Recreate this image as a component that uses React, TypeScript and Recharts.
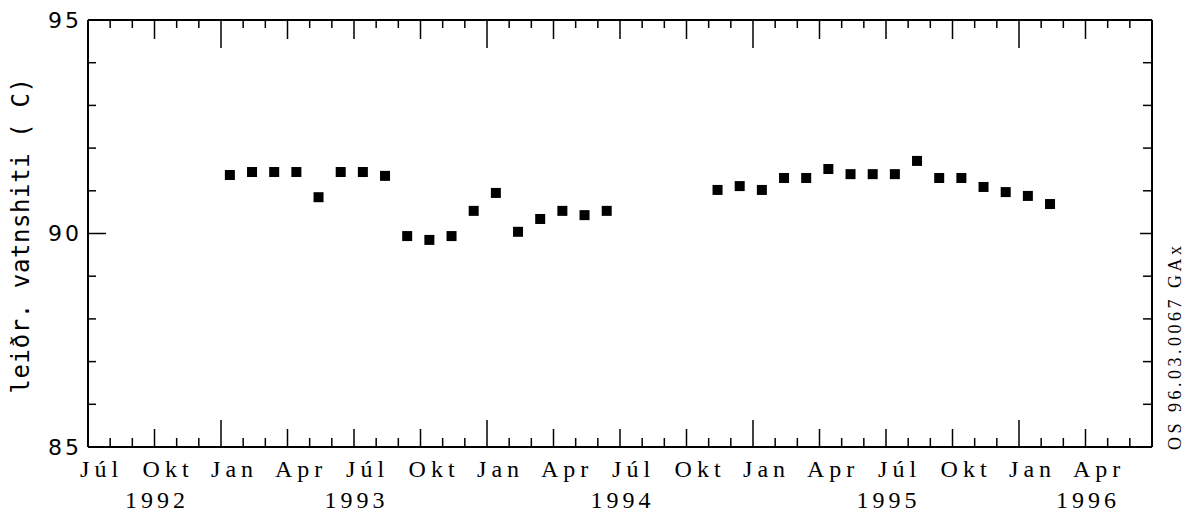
import React from "react";
import { ScatterChart, Scatter, XAxis, YAxis, Label } from "recharts";

// Month index: 0 = Júl 1992 ... 48 = Júl 1996
const seg1Months = [6, 7, 8, 9, 10, 11, 12, 13, 14, 15, 16, 17, 18, 19, 20, 21, 22, 23];
const seg1Values = [91.37, 91.44, 91.44, 91.44, 90.85, 91.44, 91.44, 91.35, 89.94, 89.85, 89.94, 90.53, 90.95, 90.04, 90.34, 90.53, 90.43, 90.53];
const seg2Months = [28, 29, 30, 31, 32, 33, 34, 35, 36, 37, 38, 39, 40, 41, 42, 43];
const seg2Values = [91.02, 91.11, 91.02, 91.3, 91.3, 91.51, 91.39, 91.39, 91.39, 91.7, 91.3, 91.3, 91.09, 90.97, 90.88, 90.69];
const measureDayFraction = 0.4; // measurements taken ~12th of each month

const quarterLabels = ["Júl", "Okt", "Jan", "Apr", "Júl", "Okt", "Jan", "Apr", "Júl", "Okt", "Jan", "Apr", "Júl", "Okt", "Jan", "Apr"];
const yearLabels = ["1992", "1993", "1994", "1995", "1996"];
const yearPositions = [3, 12, 24, 36, 45];
const yTicks = [85, 86, 87, 88, 89, 90, 91, 92, 93, 94, 95];
const yLabeled = [85, 90, 95];
const yTitle = "leiðr. vatnshiti ( C)";
const stamp = "OS 96.03.0067 GAx";

const data = [
  ...seg1Months.map((m, i) => ({ x: m + measureDayFraction, y: seg1Values[i] })),
  ...seg2Months.map((m, i) => ({ x: m + measureDayFraction, y: seg2Values[i] })),
];

const monthTicks = Array.from({ length: 49 }, (_, i) => i);
const labelTicks = quarterLabels.map((_, i) => i * 3 + 0.5);
const bottomTicks = [...monthTicks, ...labelTicks].sort((a, b) => a - b);

const LS = 5;

const tickLen = (m: number, top: boolean) => {
  if (m % 12 === 6) return top ? 28 : 27;
  if (m % 3 === 0) return top ? 19 : 18;
  return top ? 8 : 9;
};

const BottomTick = (props: any) => {
  const { x, y, payload } = props;
  const v = payload.value;
  if (Number.isInteger(v)) {
    const yi = yearPositions.indexOf(v);
    return (
      <g>
        <line x1={x} x2={x} y1={y} y2={y - tickLen(v, false)} stroke="#000" strokeWidth={1.5} />
        {yi >= 0 && (
          <text x={x + LS / 2} y={y + 61} textAnchor="middle" fontFamily="Liberation Serif" fontSize={24} letterSpacing={4} fill="#000">
            {yearLabels[yi]}
          </text>
        )}
      </g>
    );
  }
  const qi = Math.round((v - 0.5) / 3);
  return (
    <text x={x + LS / 2} y={y + 30} textAnchor="middle" fontFamily="Liberation Serif" fontSize={24} letterSpacing={LS} fill="#000">
      {quarterLabels[qi]}
    </text>
  );
};

const TopTick = (props: any) => {
  const { x, y, payload } = props;
  return <line x1={x} x2={x} y1={y} y2={y + tickLen(payload.value, true)} stroke="#000" strokeWidth={1.5} />;
};

const LeftTick = (props: any) => {
  const { x, y, payload } = props;
  const major = yLabeled.includes(payload.value);
  return (
    <g>
      <line x1={x} x2={x + (major ? 18 : 8)} y1={y} y2={y} stroke="#000" strokeWidth={1.5} />
      {major && (
        <text x={x - 6} y={y} dy="0.36em" textAnchor="end" fontFamily="DejaVu Sans" fontSize={22} letterSpacing={3} fill="#000">
          {payload.value}
        </text>
      )}
    </g>
  );
};

const RightTick = (props: any) => {
  const { x, y, payload } = props;
  const major = yLabeled.includes(payload.value);
  return <line x1={x} x2={x - (major ? 12 : 9)} y1={y} y2={y} stroke="#000" strokeWidth={1.5} />;
};

const YTitle = (props: any) => {
  const vb = props.viewBox;
  const cx = vb.x + 21;
  const cy = vb.y + vb.height / 2 + 2;
  return (
    <text x={cx} y={cy} transform={`rotate(-90 ${cx} ${cy})`} textAnchor="middle" dy="0.35em" fontFamily="DejaVu Sans Mono" fontSize={24} letterSpacing={0.6} fill="#000">
      {yTitle}
    </text>
  );
};

const Stamp = (props: any) => {
  const vb = props.viewBox;
  const cx = vb.x + 23;
  const cy = vb.y + vb.height + 3;
  return (
    <text x={cx} y={cy} transform={`rotate(-90 ${cx} ${cy})`} textAnchor="start" dy="0.35em" fontFamily="Liberation Serif" fontSize={18} letterSpacing={3.5} fill="#000">
      {stamp}
    </text>
  );
};

const SquareDot = (props: any) => {
  const { cx, cy } = props;
  return <rect x={cx - 5} y={cy - 5} width={10} height={10} fill="#000" />;
};

export default function App() {
  return (
    <div style={{ position: "absolute", left: 0, top: 0, width: 1189, height: 520, background: "#fff" }}>
      <ScatterChart width={1189} height={520} margin={{ top: 0, right: 0, bottom: 0, left: 0 }}>
        <XAxis
          xAxisId="b"
          type="number"
          dataKey="x"
          domain={[0, 48]}
          ticks={bottomTicks}
          interval={0}
          orientation="bottom"
          height={73}
          tickSize={0}
          tickMargin={0}
          tickLine={false}
          axisLine={{ stroke: "#000", strokeWidth: 2 }}
          tick={<BottomTick />}
          allowDataOverflow
        />
        <XAxis
          xAxisId="t"
          type="number"
          dataKey="x"
          domain={[0, 48]}
          ticks={monthTicks}
          interval={0}
          orientation="top"
          height={20}
          tickSize={0}
          tickMargin={0}
          tickLine={false}
          axisLine={{ stroke: "#000", strokeWidth: 2 }}
          tick={<TopTick />}
          allowDataOverflow
        />
        <YAxis
          yAxisId="l"
          type="number"
          dataKey="y"
          domain={[85, 95]}
          ticks={yTicks}
          interval={0}
          orientation="left"
          width={88}
          tickSize={0}
          tickMargin={0}
          tickLine={false}
          axisLine={{ stroke: "#000", strokeWidth: 2 }}
          tick={<LeftTick />}
          allowDataOverflow
        >
          <Label content={<YTitle />} />
        </YAxis>
        <YAxis
          yAxisId="r"
          type="number"
          dataKey="y"
          domain={[85, 95]}
          ticks={yTicks}
          interval={0}
          orientation="right"
          width={37}
          tickSize={0}
          tickMargin={0}
          tickLine={false}
          axisLine={{ stroke: "#000", strokeWidth: 2 }}
          tick={<RightTick />}
          allowDataOverflow
        >
          <Label content={<Stamp />} />
        </YAxis>
        <Scatter data={data} xAxisId="b" yAxisId="l" fill="#000" shape={<SquareDot />} isAnimationActive={false} />
      </ScatterChart>
    </div>
  );
}
